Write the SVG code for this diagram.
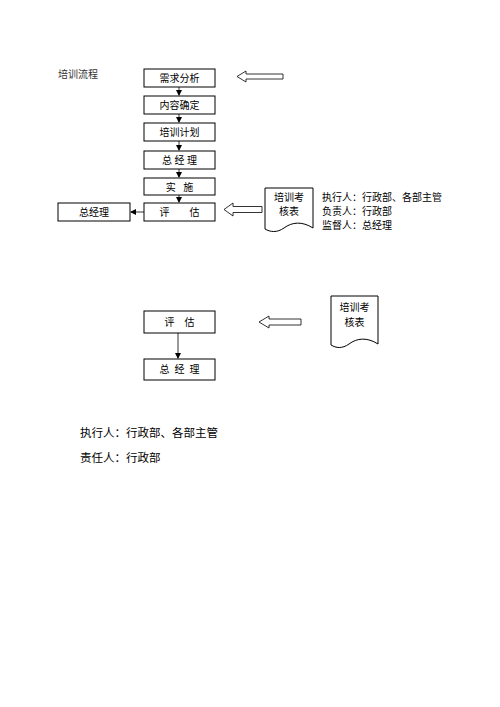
<svg xmlns="http://www.w3.org/2000/svg" width="500" height="707" viewBox="0 0 500 707">
<defs>
<marker id="ah" markerWidth="6" markerHeight="6" refX="5" refY="3" orient="auto" markerUnits="userSpaceOnUse"><path d="M0,0 L6,3 L0,6 Z" fill="#000"/></marker>
</defs>
<style>
.box{fill:#fff;stroke:#000;stroke-width:1}
.t{font-family:"Liberation Serif","Noto Sans CJK SC",serif;font-size:10px;fill:#000;text-anchor:middle;white-space:pre}
.l{font-family:"Liberation Serif","Noto Sans CJK SC",serif;font-size:10px;fill:#000}
.b{font-family:"Liberation Serif","Noto Sans CJK SC",serif;font-size:11.5px;fill:#000}
.blk{fill:#fff;stroke:#000;stroke-width:0.8}
.ln{stroke:#000;stroke-width:0.8;fill:none}
</style>
<rect width="500" height="707" fill="#fff"/>
<text x="58" y="78" class="l" style="fill:#333">培训流程</text>

<g id="n1"><rect class="box" x="144" y="69" width="71" height="18"/><text class="t" x="179.5" y="82">需求分析</text></g>
<g id="n2"><rect class="box" x="144" y="96" width="71" height="18"/><text class="t" x="179.5" y="109">内容确定</text></g>
<g id="n3"><rect class="box" x="144" y="123" width="71" height="18"/><text class="t" x="179.5" y="136">培训计划</text></g>
<g id="n4"><rect class="box" x="144" y="151" width="71" height="18"/><text class="t" x="179.5" y="164" xml:space="preserve">总 经 理</text></g>
<g id="n5"><rect class="box" x="144" y="178" width="71" height="17"/><text class="t" x="179.5" y="190.5" xml:space="preserve">实   施</text></g>
<g id="n6"><rect class="box" x="144" y="203" width="71" height="18"/><text class="t" x="179.5" y="216" xml:space="preserve">评        估</text></g>
<g id="n7"><rect class="box" x="58" y="203" width="72" height="18"/><text class="t" x="94" y="216">总经理</text></g>

<g id="doc1"><path class="box" d="M265,188 H313 V228 C302,221 292,222 284,228 C277,233 270,232 265,229 Z"/><text class="t" x="289" y="201">培训考</text><text class="t" x="289" y="215">核表</text></g>
<g id="arr1"><path class="blk" d="M237,76.5 L246,71 V74 H283 V79 H246 V82 Z"/></g>
<g id="arr2"><path class="blk" d="M224,209.5 L233,203 V206.5 H262 V212.5 H233 V216 Z"/></g>

<g id="notes">
<text class="l" x="322" y="201">执行人：行政部、各部主管</text>
<text class="l" x="322" y="215">负责人：行政部</text>
<text class="l" x="322" y="229">监督人：总经理</text>
</g>

<g id="n8"><rect class="box" x="144" y="311" width="71" height="22"/><text class="t" x="179.5" y="325.5" xml:space="preserve">评    估</text></g>
<g id="n9"><rect class="box" x="144" y="359" width="71" height="21"/><text class="t" x="179.5" y="373" xml:space="preserve">总  经  理</text></g>
<g id="doc2"><path class="box" d="M331,296 H378 V344 C367,337 357,338 349,344 C342,349 336,348 331,345 Z"/><text class="t" x="354.5" y="311">培训考</text><text class="t" x="354.5" y="326">核表</text></g>
<g id="arr3"><path class="blk" d="M259,322 L269,316 V319 H301 V325 H269 V328 Z"/></g>

<g id="connectors">
<line class="ln" x1="179" y1="87" x2="179" y2="95" marker-end="url(#ah)"/>
<line class="ln" x1="179" y1="114" x2="179" y2="122" marker-end="url(#ah)"/>
<line class="ln" x1="179" y1="141" x2="179" y2="150" marker-end="url(#ah)"/>
<line class="ln" x1="179" y1="169" x2="179" y2="177" marker-end="url(#ah)"/>
<line class="ln" x1="179" y1="195" x2="179" y2="202" marker-end="url(#ah)"/>
<line class="ln" x1="144" y1="212" x2="131" y2="212" marker-end="url(#ah)"/>
<line class="ln" x1="178" y1="333" x2="178" y2="358" marker-end="url(#ah)"/>
</g>

<text class="b" x="80" y="437">执行人：行政部、各部主管</text>
<text class="b" x="80" y="462">责任人：行政部</text>
</svg>
